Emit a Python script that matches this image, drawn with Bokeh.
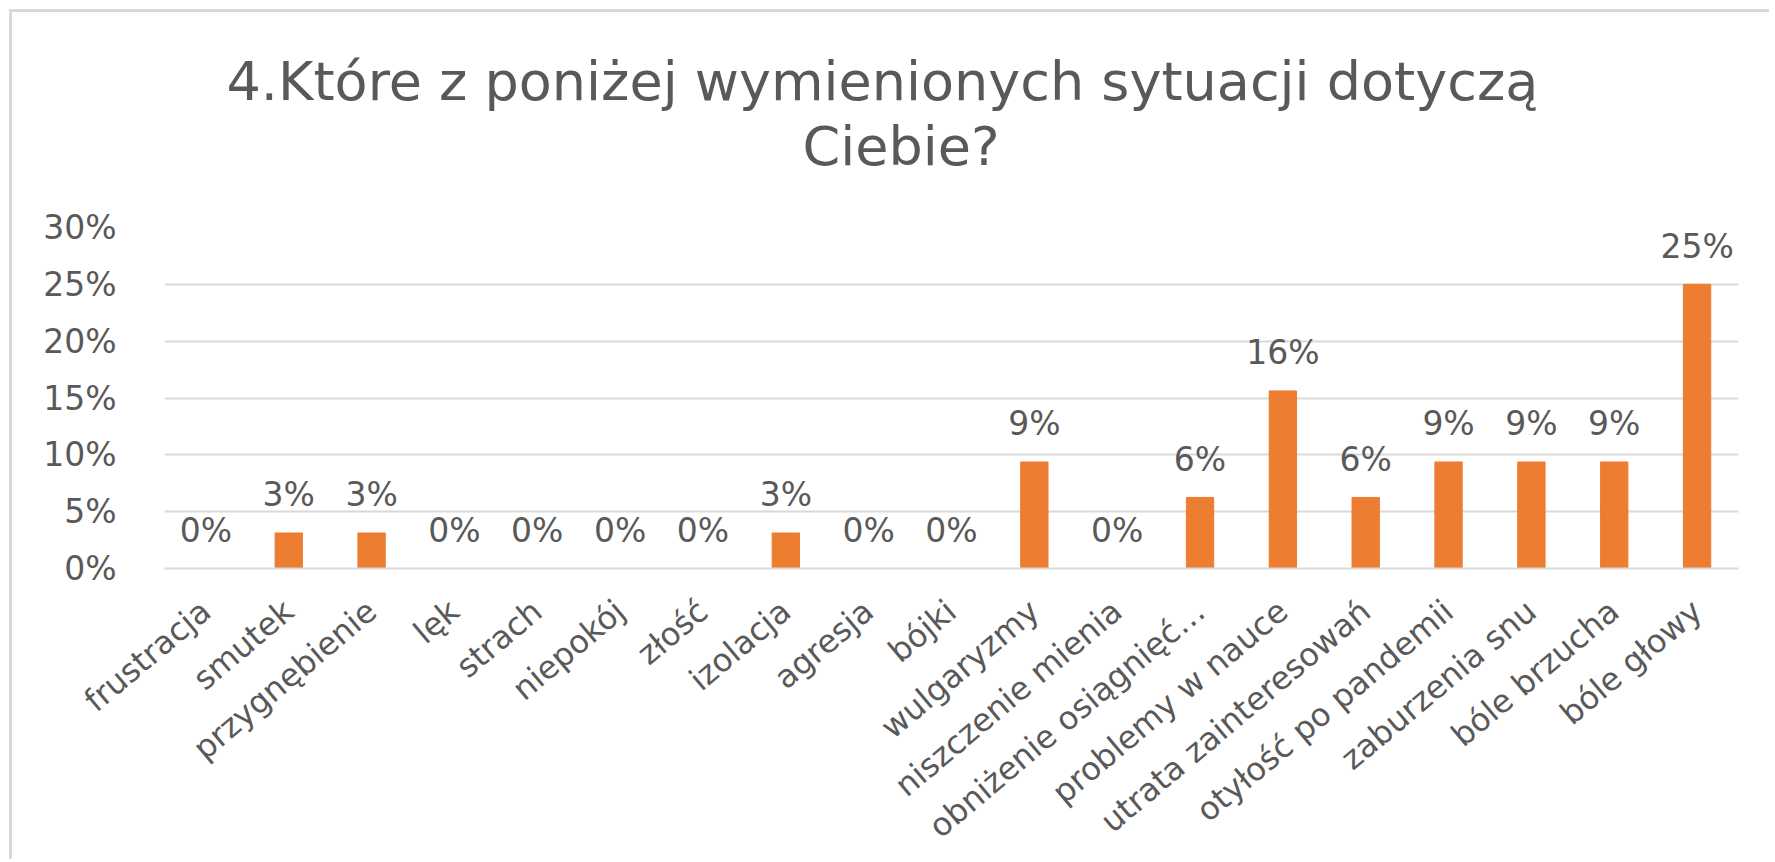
from bokeh.plotting import figure
from bokeh.models import FactorRange, Range1d, FixedTicker, NumeralTickFormatter, Title
from bokeh.core.properties import value
from bokeh.embed import file_html
from bokeh.resources import INLINE

categories = ["frustracja", "smutek", "przygnębienie", "lęk", "strach", "niepokój",
              "złość", "izolacja", "agresja", "bójki", "wulgaryzmy", "niszczenie mienia",
              "obniżenie osiągnięć…", "problemy w nauce", "utrata zainteresowań",
              "otyłość po pandemii", "zaburzenia snu", "bóle brzucha", "bóle głowy"]
values = [0.0, 0.03125, 0.03125, 0.0, 0.0, 0.0, 0.0, 0.03125, 0.0, 0.0, 0.09375,
          0.0, 0.0625, 0.15625, 0.0625, 0.09375, 0.09375, 0.09375, 0.25]
labels = [f"{round(v * 100)}%" for v in values]
y_ticks = [0.0, 0.05, 0.10, 0.15, 0.20, 0.25, 0.30]
title_line1 = "4.Które z poniżej wymienionych sytuacji dotyczą"
title_line2 = "Ciebie?"

FONT = "DejaVu Sans"
TXT = "#595959"
GRID = "#d9d9d9"

p = figure(x_range=FactorRange(*categories), y_range=Range1d(0, 0.30),
           width=1760, height=850, output_backend="svg", toolbar_location=None,
           min_border_left=152, min_border_right=34, min_border_top=215,
           min_border_bottom=293, title=None)
p.margin = (9, 0, 0, 9)
p.styles = {"border-left": f"3px solid {GRID}", "border-top": f"3px solid {GRID}"}
p.outline_line_color = None
p.background_fill_color = "white"
p.border_fill_color = "white"

p.vbar(x=categories, top=values, width=0.33, color="#ED7D31")
p.text(x=categories, y=values, text=labels, text_align="center", text_baseline="middle",
       y_offset=-38, text_font_size="33px", text_color=TXT, text_font=value(FONT))

# spacer between plot frame and the two title lines
p.add_layout(Title(text=" ", text_font_size="12px", standoff=34), "above")
for txt, off in ((title_line2, 638), (title_line1, 62)):
    p.add_layout(Title(text=txt, align="left", offset=off, standoff=0,
                       text_font=FONT, text_font_size="54px", text_font_style="normal",
                       text_color=TXT), "above")

p.xgrid.grid_line_color = None
p.ygrid.grid_line_color = GRID
p.ygrid.grid_line_width = 2
p.yaxis.ticker = FixedTicker(ticks=y_ticks)
p.yaxis.formatter = NumeralTickFormatter(format="0%")
p.yaxis.axis_line_color = None
p.yaxis.major_tick_line_color = None
p.yaxis.minor_tick_line_color = None
p.yaxis.major_label_standoff = 42
p.yaxis.major_label_text_font = FONT
p.yaxis.major_label_text_font_size = "33px"
p.yaxis.major_label_text_color = TXT

p.xaxis.axis_line_color = GRID
p.xaxis.axis_line_width = 2
p.xaxis.major_tick_line_color = None
p.xaxis.minor_tick_line_color = None
p.xaxis.major_label_orientation = 0.70
p.xaxis.major_label_standoff = 32
p.xaxis.major_label_text_font = FONT
p.xaxis.major_label_text_font_size = "32px"
p.xaxis.major_label_text_color = TXT

open("out.html", "w").write(file_html(p, INLINE))
